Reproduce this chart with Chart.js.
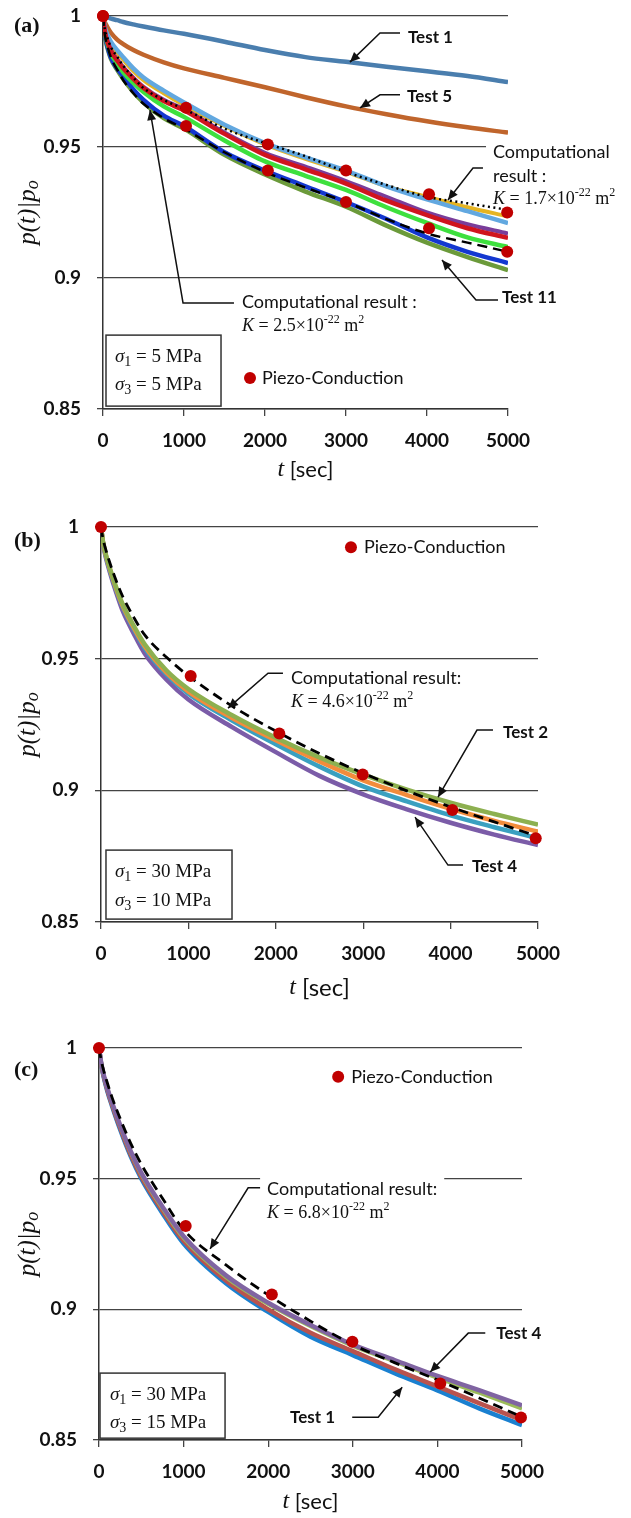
<!DOCTYPE html>
<html>
<head>
<meta charset="utf-8">
<script src="https://cdn.jsdelivr.net/npm/chart.js@4.4.1/dist/chart.umd.min.js"></script>
<style>
  body { margin: 0; background: #fff; }
  canvas { position: absolute; left: 0; }
</style>
</head>
<body>
<canvas id="ca" style="top:-12px"></canvas>
<canvas id="cb" style="top:490px"></canvas>
<canvas id="cc" style="top:1000px"></canvas>
<script>
// tick labels
const xTicks = ['0', '1000', '2000', '3000', '4000', '5000'];
const yTicks = ['0.85', '0.9', '0.95', '1'];

// panel (a): sigma1 = sigma3 = 5 MPa
const tA = [0, 25, 50, 100, 175, 250, 375, 500, 750, 1000, 1500, 2000, 2500, 3000, 3500, 4000, 4500, 5000];
const aTest1 = [1, 0.9997, 0.9995, 0.9990, 0.9984, 0.9977, 0.9968, 0.9960, 0.9945, 0.9932, 0.9902, 0.9870, 0.9843, 0.9825, 0.9806, 0.9789, 0.9771, 0.9748];
const aTest5 = [1, 0.9975, 0.9960, 0.9935, 0.9910, 0.9893, 0.9870, 0.9852, 0.9823, 0.9800, 0.9764, 0.9728, 0.9690, 0.9655, 0.9625, 0.9598, 0.9575, 0.9555];
const aLightBlue = [1, 0.9955, 0.9932, 0.990, 0.987, 0.9843, 0.980, 0.9765, 0.9715, 0.967, 0.9585, 0.9515, 0.946, 0.941, 0.935, 0.930, 0.9255, 0.921];
const aGold = [1, 0.995, 0.9925, 0.989, 0.986, 0.9833, 0.979, 0.9755, 0.9705, 0.966, 0.958, 0.951, 0.9455, 0.9405, 0.935, 0.931, 0.927, 0.9235];
const aPurple = [1, 0.994, 0.991, 0.987, 0.9835, 0.9805, 0.9765, 0.973, 0.968, 0.9645, 0.9555, 0.9478, 0.9425, 0.937, 0.931, 0.925, 0.9205, 0.917];
const aRed = [1, 0.9938, 0.9905, 0.9865, 0.983, 0.980, 0.976, 0.9725, 0.9675, 0.964, 0.955, 0.947, 0.9415, 0.936, 0.9295, 0.924, 0.919, 0.9153];
const aLightGreen = [1, 0.9935, 0.990, 0.9855, 0.982, 0.9785, 0.9745, 0.971, 0.9655, 0.9615, 0.9525, 0.9445, 0.939, 0.9336, 0.927, 0.921, 0.9155, 0.9118];
const aBlue = [1, 0.9925, 0.989, 0.984, 0.980, 0.977, 0.972, 0.968, 0.962, 0.958, 0.948, 0.941, 0.935, 0.929, 0.9225, 0.9155, 0.910, 0.9057];
const aOlive = [1, 0.992, 0.9885, 0.9835, 0.9795, 0.976, 0.971, 0.967, 0.961, 0.957, 0.947, 0.9395, 0.933, 0.9272, 0.920, 0.9135, 0.908, 0.903];
const aComp17 = [1, 0.9945, 0.992, 0.988, 0.9845, 0.981, 0.9765, 0.9725, 0.968, 0.9645, 0.957, 0.9515, 0.9465, 0.9405, 0.9355, 0.931, 0.9285, 0.926];
const aComp25 = [1, 0.9925, 0.989, 0.984, 0.9795, 0.9755, 0.9705, 0.9665, 0.961, 0.957, 0.948, 0.9405, 0.9345, 0.929, 0.9225, 0.917, 0.9135, 0.910];
const aPiezoT = [0, 1025, 2035, 3000, 4025, 4990];
const aPiezoHi = [1, 0.965, 0.951, 0.941, 0.932, 0.925];
const aPiezoLo = [1, 0.958, 0.941, 0.929, 0.919, 0.910];

// panel (b): sigma1 = 30, sigma3 = 10 MPa
const tB = [0, 25, 50, 100, 175, 250, 375, 500, 750, 1000, 1500, 2000, 2500, 3000, 3500, 4000, 4500, 5000];
const bGreen = [1, 0.994, 0.9903, 0.9845, 0.977, 0.9705, 0.9625, 0.9555, 0.9455, 0.9385, 0.9285, 0.920, 0.9125, 0.906, 0.9003, 0.8953, 0.891, 0.887];
const bOrange = [1, 0.9938, 0.990, 0.9842, 0.9765, 0.970, 0.9618, 0.9547, 0.9447, 0.9375, 0.9275, 0.919, 0.911, 0.9038, 0.8982, 0.893, 0.8884, 0.8843];
const bTeal = [1, 0.9936, 0.9897, 0.9838, 0.976, 0.9695, 0.9612, 0.954, 0.944, 0.9367, 0.9265, 0.9175, 0.909, 0.9015, 0.8958, 0.8905, 0.886, 0.8818];
const bPurple = [1, 0.9933, 0.9892, 0.983, 0.975, 0.968, 0.9595, 0.952, 0.942, 0.9345, 0.924, 0.9145, 0.9055, 0.8985, 0.8928, 0.8877, 0.8832, 0.8792];
const bComp46 = [1, 0.9952, 0.992, 0.9865, 0.9795, 0.9735, 0.9657, 0.959, 0.9505, 0.9435, 0.932, 0.9225, 0.914, 0.9065, 0.8998, 0.8937, 0.888, 0.8825];
const bPiezoT = [0, 1026, 2040, 2994, 4020, 4974];
const bPiezo = [1, 0.9434, 0.9216, 0.906, 0.8925, 0.8818];

// panel (c): sigma1 = 30, sigma3 = 15 MPa
const tC = [0, 25, 50, 100, 150, 250, 375, 500, 750, 1000, 1500, 2000, 2500, 3000, 3500, 4000, 4500, 5000];
const cPurple = [1, 0.9945, 0.9905, 0.9845, 0.9795, 0.9705, 0.9605, 0.9522, 0.9393, 0.928, 0.913, 0.9025, 0.894, 0.8865, 0.8805, 0.8745, 0.869, 0.8632];
const cGreen = [1, 0.9944, 0.9903, 0.9843, 0.9793, 0.9702, 0.960, 0.9517, 0.9387, 0.9273, 0.9123, 0.902, 0.8935, 0.886, 0.880, 0.8738, 0.868, 0.862];
const cBrown = [1, 0.9942, 0.990, 0.9838, 0.9787, 0.9695, 0.9592, 0.9508, 0.9377, 0.9262, 0.911, 0.900, 0.891, 0.884, 0.877, 0.8705, 0.864, 0.8576];
const cBlue = [1, 0.994, 0.9897, 0.9833, 0.9782, 0.9688, 0.9585, 0.950, 0.9368, 0.9252, 0.910, 0.899, 0.8895, 0.8825, 0.8755, 0.869, 0.862, 0.8557];
const cComp68 = [1, 0.9955, 0.992, 0.9865, 0.9815, 0.973, 0.9635, 0.9555, 0.9425, 0.9305, 0.917, 0.9055, 0.8955, 0.8865, 0.8795, 0.873, 0.866, 0.8588];
const cPiezoT = [0, 1025, 2043, 2995, 4034, 4988];
const cPiezo = [1, 0.9319, 0.9057, 0.8876, 0.8716, 0.8586];

const SANS = 'Lato, "Open Sans", sans-serif';
const SERIF = '"Liberation Serif", "DejaVu Serif", serif';
const DOT = '#c00000';

const pts = (ts, vs) => ts.map((t, i) => ({x: t, y: vs[i]}));

function curve(ts, vs, color, w) {
  return {data: pts(ts, vs), borderColor: color, borderWidth: w || 4, pointRadius: 0,
    cubicInterpolationMode: 'monotone', fill: false};
}
function comp(ts, vs, dash, w) {
  return {data: pts(ts, vs), borderColor: '#000', borderWidth: w, borderDash: dash, pointRadius: 0,
    cubicInterpolationMode: 'monotone', fill: false};
}
function dots(ts, vs) {
  return {data: pts(ts, vs), showLine: false, pointRadius: 6, pointBackgroundColor: DOT,
    pointBorderWidth: 0, clip: false};
}

// rich text helpers
const sans = (s, sz, b) => [{s, f: (b ? 'bold ' : '') + (sz || 17) + 'px ' + SANS}];
const test = s => sans(s, 17, true);
const kText = k => [
  {s: 'K', f: 'italic 18px ' + SERIF},
  {s: ' = ' + k + '×10', f: '18px ' + SERIF},
  {s: '-22', f: '12px ' + SERIF, dy: -6},
  {s: ' m', f: '18px ' + SERIF},
  {s: '2', f: '12px ' + SERIF, dy: -6}
];
const sigma = (n, mpa) => [
  {s: 'σ', f: 'italic 19px ' + SERIF},
  {s: n, f: '14px ' + SERIF, dy: 5},
  {s: ' = ' + mpa + ' MPa', f: '19px ' + SERIF}
];

function drawParts(ctx, x, y, parts) {
  ctx.textBaseline = 'middle';
  ctx.textAlign = 'left';
  let cx = x;
  for (const p of parts) {
    ctx.font = p.f;
    ctx.fillText(p.s, cx, y + (p.dy || 0));
    cx += ctx.measureText(p.s).width;
  }
}
function partsWidth(ctx, parts) {
  let w = 0;
  for (const p of parts) { ctx.font = p.f; w += ctx.measureText(p.s).width; }
  return w;
}

function notesPlugin(n) {
  return {
    id: 'notes',
    afterDatasetsDraw(chart) {
      const {ctx, chartArea: ca, scales: {x, y}} = chart;
      const P = ([t, v]) => [x.getPixelForValue(t), y.getPixelForValue(v)];
      ctx.save();
      // parameter box
      const [bx0, by0] = P(n.box[0]), [bx1, by1] = P(n.box[1]);
      ctx.fillStyle = '#fff';
      ctx.fillRect(bx0, by0, bx1 - bx0, by1 - by0);
      ctx.lineWidth = 1.5;
      ctx.strokeStyle = '#333';
      ctx.strokeRect(bx0, by0, bx1 - bx0, by1 - by0);
      // text
      for (const tx of n.texts) {
        const [px, py] = P(tx.at);
        if (tx.bg) {
          ctx.fillStyle = '#fff';
          ctx.fillRect(px - 7, py - 11, partsWidth(ctx, tx.parts) + 14, 22);
        }
        ctx.fillStyle = '#111';
        drawParts(ctx, px, py, tx.parts);
      }
      // leaders with arrow heads
      ctx.strokeStyle = '#111';
      ctx.fillStyle = '#111';
      ctx.lineWidth = 1.5;
      for (const ld of n.leaders) {
        const p = ld.map(P);
        ctx.beginPath();
        ctx.moveTo(p[0][0], p[0][1]);
        for (let i = 1; i < p.length; i++) ctx.lineTo(p[i][0], p[i][1]);
        ctx.stroke();
        const [x1, y1] = p[p.length - 2], [x2, y2] = p[p.length - 1];
        const a = Math.atan2(y2 - y1, x2 - x1), L = 10, W = 4.5;
        ctx.beginPath();
        ctx.moveTo(x2, y2);
        ctx.lineTo(x2 - L * Math.cos(a) + W * Math.sin(a), y2 - L * Math.sin(a) - W * Math.cos(a));
        ctx.lineTo(x2 - L * Math.cos(a) - W * Math.sin(a), y2 - L * Math.sin(a) + W * Math.cos(a));
        ctx.closePath();
        ctx.fill();
      }
      // legend dot
      const [dx, dy] = P(n.dot);
      ctx.fillStyle = DOT;
      ctx.beginPath();
      ctx.arc(dx, dy, 6, 0, Math.PI * 2);
      ctx.fill();
      // panel letter
      ctx.fillStyle = '#111';
      ctx.font = 'bold 22px ' + SERIF;
      ctx.textBaseline = 'middle';
      ctx.textAlign = 'left';
      ctx.fillText(n.letter, 14, ca.top + n.letterDy);
      // axis titles
      const ax = (ca.left + ca.right) / 2, ay = ca.bottom + n.xTitleDy;
      const xt = [{s: 't', f: 'italic 24px ' + SERIF}, {s: ' [sec]', f: n.xTitleSize + 'px ' + SANS}];
      drawParts(ctx, ax - partsWidth(ctx, xt) / 2, ay, xt);
      ctx.save();
      ctx.translate(28, (ca.top + ca.bottom) / 2);
      ctx.rotate(-Math.PI / 2);
      const yt = [{s: 'p(t)|p', f: 'italic 25px ' + SERIF}, {s: 'o', f: 'italic 18px ' + SERIF, dy: 5}];
      drawParts(ctx, -partsWidth(ctx, yt) / 2, 0, yt);
      ctx.restore();
      ctx.restore();
    }
  };
}

function panel(id, H, area, datasets, notes) {
  const cv = document.getElementById(id);
  cv.width = 631;
  cv.height = H;
  const tickFont = {family: SANS, size: 19, weight: 'bold'};
  return new Chart(cv, {
    type: 'line',
    data: {datasets},
    options: {
      responsive: false,
      animation: false,
      layout: {padding: {left: 0, top: area.top, right: 631 - area.right, bottom: 0}},
      plugins: {legend: {display: false}, tooltip: {enabled: false}},
      scales: {
        x: {
          type: 'linear', min: 0, max: 5000,
          afterFit: s => { s.height = H - area.bottom; },
          ticks: {stepSize: 1000, padding: 13, color: '#111', font: tickFont, maxRotation: 0,
            callback: (v, i) => xTicks[i]},
          grid: {drawOnChartArea: false, color: '#444', lineWidth: 1.3, tickLength: 7},
          border: {color: '#333', width: 1.5}
        },
        y: {
          type: 'linear', min: 0.85, max: 1,
          afterFit: s => { s.width = area.left; },
          ticks: {stepSize: 0.05, padding: 16, color: '#111', font: tickFont,
            callback: (v, i) => yTicks[i]},
          grid: {color: '#444', lineWidth: 1.3, tickLength: 6},
          border: {color: '#333', width: 1.5}
        }
      }
    },
    plugins: [notesPlugin(notes)]
  });
}

// (a) — canvas is shifted up 12px so the plot top sits at page y = 16
panel('ca', 502, {left: 103, right: 508, top: 28, bottom: 421}, [
  dots(aPiezoT, aPiezoHi),
  dots(aPiezoT, aPiezoLo),
  comp(tA, aComp17, [2, 3.5], 2.5),
  comp(tA, aComp25, [10, 6], 2.5),
  curve(tA, aRed, '#d0141e', 4.5),
  curve(tA, aPurple, '#7a3d9a', 4),
  curve(tA, aLightBlue, '#62a8e0', 4.5),
  curve(tA, aGold, '#e6b422', 4),
  curve(tA, aLightGreen, '#3ee03e', 4.5),
  curve(tA, aBlue, '#1438d0', 4.5),
  curve(tA, aOlive, '#6b9a3a', 4.5),
  curve(tA, aTest5, '#c0652c', 4.5),
  curve(tA, aTest1, '#4a7eae', 4.5)
], {
  letter: '(a)', letterDy: 10, xTitleDy: 61, xTitleSize: 22,
  box: [[37, 0.8782], [1457, 0.8511]],
  dot: [1815, 0.8618],
  texts: [
    {at: [3765, 0.9916], parts: test('Test 1')},
    {at: [3753, 0.9691], parts: test('Test 5')},
    {at: [4815, 0.9481], parts: sans('Computational', 18), bg: true},
    {at: [4815, 0.9389], parts: sans('result :', 18)},
    {at: [4815, 0.9302], parts: kText('1.7')},
    {at: [1716, 0.8908], parts: sans('Computational result :', 18)},
    {at: [1716, 0.8817], parts: kText('2.5')},
    {at: [4926, 0.8924], parts: test('Test 11')},
    {at: [148, 0.8698], parts: sigma('1', '5')},
    {at: [148, 0.8592], parts: sigma('3', '5')},
    {at: [1963, 0.8618], parts: sans('Piezo-Conduction', 18)}
  ],
  leaders: [
    [[3667, 0.9935], [3420, 0.9935], [3049, 0.9824]],
    [[3667, 0.9699], [3420, 0.9699], [3173, 0.9649]],
    [[4691, 0.9420], [4568, 0.9420], [4259, 0.9298]],
    [[1617, 0.8905], [988, 0.8905], [580, 0.9641]],
    [[4877, 0.8916], [4605, 0.8916], [4185, 0.9069]]
  ]
});

// (b)
panel('cb', 510, {left: 101, right: 538, top: 37, bottom: 432}, [
  dots(bPiezoT, bPiezo),
  comp(tB, bComp46, [10, 6], 2.8),
  curve(tB, bGreen, '#8db050', 4.5),
  curve(tB, bOrange, '#f28c3c', 4.5),
  curve(tB, bTeal, '#3aa0c0', 4.5),
  curve(tB, bPurple, '#7b5ca8', 4.5)
], {
  letter: '(b)', letterDy: 14, xTitleDy: 66, xTitleSize: 24,
  box: [[57, 0.8773], [1499, 0.8511]],
  dot: [2860, 0.9923],
  texts: [
    {at: [3009, 0.9923], parts: sans('Piezo-Conduction', 18)},
    {at: [2174, 0.9426], parts: sans('Computational result:', 18)},
    {at: [2174, 0.9335], parts: kText('4.6')},
    {at: [4600, 0.9221], parts: test('Test 2')},
    {at: [4245, 0.8709], parts: test('Test 4')},
    {at: [160, 0.8690], parts: sigma('1', '30')},
    {at: [160, 0.8580], parts: sigma('3', '10')}
  ],
  leaders: [
    [[2082, 0.9445], [1911, 0.9445], [1453, 0.9312]],
    [[4485, 0.9229], [4302, 0.9229], [3856, 0.8974]],
    [[4142, 0.8716], [3970, 0.8716], [3593, 0.8898]]
  ]
});

// (c)
panel('cc', 518, {left: 99, right: 522, top: 48, bottom: 440}, [
  dots(cPiezoT, cPiezo),
  comp(tC, cComp68, [10, 6], 2.8),
  curve(tC, cPurple, '#8064a2', 4.5),
  curve(tC, cGreen, '#9bbb59', 4),
  curve(tC, cBrown, '#b9534e', 4.5),
  curve(tC, cBlue, '#1a80d0', 4.5)
], {
  letter: '(c)', letterDy: 22, xTitleDy: 62, xTitleSize: 22,
  box: [[12, 0.8756], [1490, 0.8507]],
  dot: [2827, 0.9890],
  texts: [
    {at: [2981, 0.9890], parts: sans('Piezo-Conduction', 18)},
    {at: [1987, 0.9461], parts: sans('Computational result:', 18), bg: true},
    {at: [1987, 0.9369], parts: kText('6.8')},
    {at: [4696, 0.8909], parts: test('Test 4')},
    {at: [2259, 0.8587], parts: test('Test 1')},
    {at: [130, 0.8671], parts: sigma('1', '30')},
    {at: [130, 0.8564], parts: sigma('3', '15')}
  ],
  leaders: [
    [[1904, 0.9465], [1763, 0.9465], [1313, 0.9231]],
    [[4566, 0.8909], [4365, 0.8909], [3915, 0.8760]],
    [[2993, 0.8587], [3300, 0.8587], [3584, 0.8702]]
  ]
});
</script>
</body>
</html>
